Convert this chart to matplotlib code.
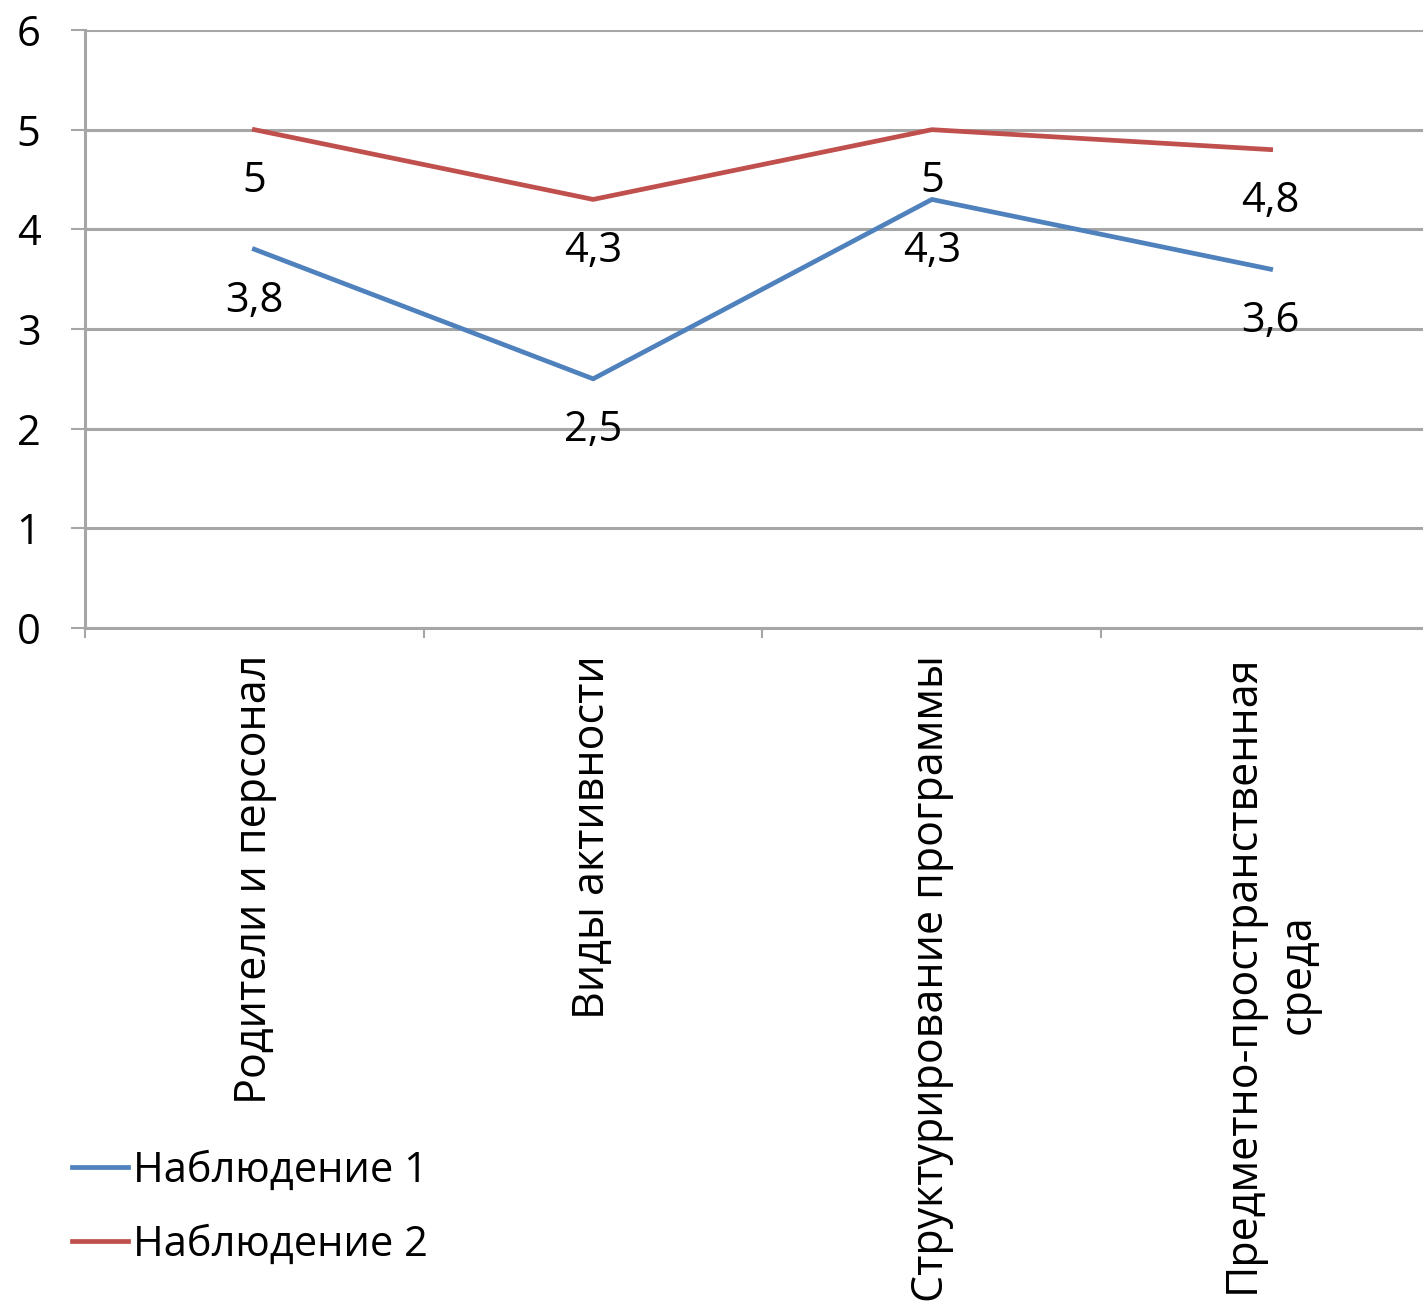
import matplotlib.pyplot as plt

categories = ["Родители и персонал", "Виды активности",
              "Структурирование программы", "Предметно-пространственная\nсреда"]
obs1 = [3.8, 2.5, 4.3, 3.6]
obs2 = [5, 4.3, 5, 4.8]
series_names = ["Наблюдение 1", "Наблюдение 2"]
y_ticks = [0, 1, 2, 3, 4, 5, 6]

plt.rcParams['font.family'] = ['Open Sans', 'DejaVu Sans']

W, H = 1423, 1310
fig = plt.figure(figsize=(W / 100, H / 100), dpi=100)
# axes runs past the right edge of the picture, as in the original
left, right, top, bottom = 85, 1440, 30, 628
ax = fig.add_axes([left / W, 1 - bottom / H, (right - left) / W, (bottom - top) / H])

grid_c = "#a6a6a6"
x = list(range(len(categories)))
l1, = ax.plot(x, obs1, color="#4f81bd", lw=3.4, label=series_names[0], clip_on=False)
l2, = ax.plot(x, obs2, color="#c0504d", lw=3.4, label=series_names[1], clip_on=False)

for xs, vals in [(x, obs1), (x, obs2)]:
    for xi, v in zip(xs, vals):
        ax.annotate(f"{v:g}".replace(".", ","), (xi, v), xytext=(0, -37),
                    textcoords="offset points", ha="center", va="center", fontsize=30)

ax.set_xlim(-0.5, 3.5)
ax.set_ylim(0, 6)
ax.set_yticks(y_ticks)
ax.set_yticklabels([str(t) for t in y_ticks], fontsize=30)
ax.set_xticks([i + 0.5 for i in range(-1, 4)])
ax.set_xticklabels([])
ax.grid(axis="y", color=grid_c, lw=2.2)
ax.set_axisbelow(True)
for s in ["top", "right"]:
    ax.spines[s].set_visible(False)
for s in ["left", "bottom"]:
    ax.spines[s].set_color(grid_c)
    ax.spines[s].set_linewidth(2.2)
ax.tick_params(axis="y", length=10, width=1.5, color=grid_c, pad=22)
ax.tick_params(axis="x", length=7, width=1.5, color=grid_c)

for xi, lab in zip(x, categories):
    ax.text(xi, -0.27, lab, rotation=90, ha="center", va="top", fontsize=31,
            multialignment="center", linespacing=1.35, transform=ax.transData, clip_on=False)

fig.legend(handles=[l1, l2], loc="upper left", bbox_to_anchor=(72 / W, 1 - 1150 / H),
           frameon=False, fontsize=30, handlelength=1.35, handletextpad=0.12,
           labelspacing=0.76, borderpad=0, borderaxespad=0)

fig.savefig("out.png", dpi=100)
